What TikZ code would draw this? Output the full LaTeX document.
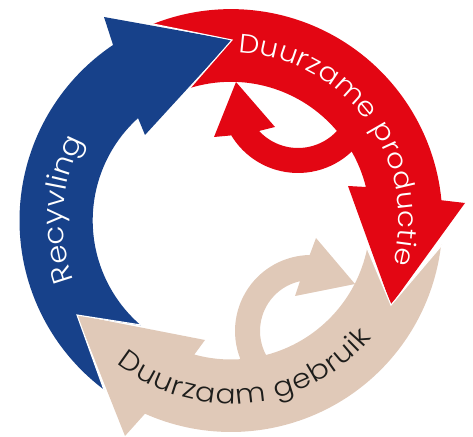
\documentclass[tikz,border=0pt]{standalone}
\usepackage{fontspec}
\setmainfont{Poppins}[UprightFont=* Light,FakeStretch=1.1]
\usetikzlibrary{decorations.text}
\definecolor{redc}{HTML}{E30613}
\definecolor{bluec}{HTML}{17418A}
\definecolor{beigec}{HTML}{E0C9B8}
\definecolor{inkc}{HTML}{1D1D1B}
\newcommand{\arcto}[5]{-- ({#1+#3*cos(#4)},{#2+#3*sin(#4)}) arc[start angle=#4,end angle=#5,radius=#3pt]}
\newcommand{\ringto}[3]{\arcto{231}{220.5}{#1}{#2}{#3}}
\tikzset{
  seam/.style={draw=white,line width=1.1pt,line cap=round},
  arclabel/.style={decorate,decoration={text along path,text={#1},text align={fit to path}}}
}
\begin{document}
\begin{tikzpicture}[x=1pt,y=1pt]
\useasboundingbox (0,0) rectangle (473,436);
\begin{scope}[yshift=436pt,yscale=-1]
% red arrow
\fill[redc] (153,24) \ringto{211.4}{248.4}{354.5}
  -- (465,203) -- (391,305) -- (348,186) -- (366,187)
  \ringto{139}{346.1}{330.5}
  \arcto{298}{95}{78}{46.5}{148.8}
  -- (214,137) -- (236,82) -- (275,127) -- (259,131)
  \arcto{298}{95}{53}{137.3}{42.7}
  \ringto{138.7}{319.8}{252.8}
  -- (232,40) -- cycle;
% blue arrow
\fill[bluec] (104,390) \ringto{211.5}{126.8}{236.1}
  -- (104,17) -- (232,40) -- (145,135) -- (138,118)
  \ringto{138.3}{227.8}{130.7}
  -- (77,315) -- cycle;
% beige arrow
\fill[beigec] (442,245) \ringto{211.5}{6.6}{114}
  -- (125,436) -- (77,315) -- (205,340) -- (194,355)
  \ringto{139}{105.4}{86.3}
  \arcto{311}{331}{76}{158.5}{269}
  -- (316,238) -- (355,284) -- (295,296) -- (300,281)
  \arcto{311}{331}{51}{257.6}{152}
  \ringto{139}{75.4}{11.4}
  -- (391,305) -- cycle;
% white seams
\draw[seam] (153,24) -- (232,40) -- (190,88);
\draw[seam] (104,390) -- (77,315) -- (141,325);
\draw[seam] (367,248) -- (391,305) -- (442,245);
\end{scope}
% labels (y up, circle centre at 231,215.5)
\path[arclabel={|\fontsize{26.5}{27}\selectfont\color{white}|Duurzame productie}]
  ({231+168*cos(87.6)},{215.5+168*sin(87.6)}) arc[start angle=87.6,end angle=-15,radius=168pt];
\path[arclabel={|\fontsize{28}{28}\selectfont\color{white}|Recyvling}]
  ({231+168*cos(200.8)},{215.5+168*sin(200.8)}) arc[start angle=200.8,end angle=152.3,radius=168pt];
\path[arclabel={|\fontsize{27}{27}\selectfont\color{inkc}|Duurzaam gebruik}]
  ({231+183*cos(231.3)},{215.5+183*sin(231.3)}) arc[start angle=231.3,end angle=320.2,radius=183pt];
\end{tikzpicture}
\end{document}
